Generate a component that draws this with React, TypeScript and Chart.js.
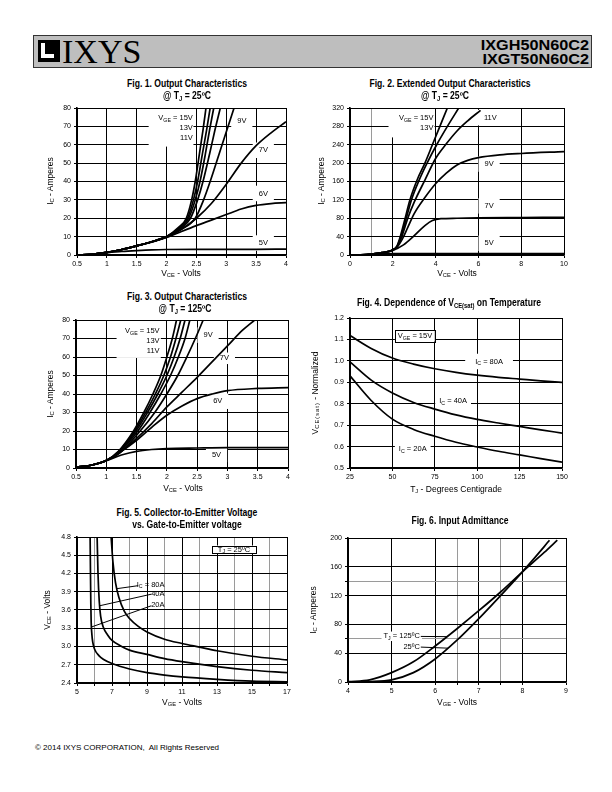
import React, { useEffect, useRef } from 'react';
import { Chart, registerables } from 'chart.js';

Chart.register(...registerables);

type XY = [number, number][];
type Part = [string, number?];
interface Lbl { x: number; y: number; parts: Part[]; align?: 'left' | 'center' | 'right'; bg?: boolean; padX?: number; padY?: number; }
interface Box { x1: number; y1: number; x2: number; y2: number; }

const FONT = "'Liberation Sans', Arial, Helvetica, sans-serif";

// ---------------- Fig. 1  Output Characteristics @ 25C ----------------
const fig1XTicks = [0.5, 1, 1.5, 2, 2.5, 3, 3.5, 4];
const fig1YTicks = [0, 10, 20, 30, 40, 50, 60, 70, 80];
const fig1Vge15: XY = [[0.5, 0], [0.75, 0.4], [1, 1.4], [1.25, 3], [1.5, 5], [1.75, 7.2], [2, 10], [2.2, 15], [2.33, 20], [2.42, 30], [2.48, 40], [2.55, 55], [2.61, 68], [2.66, 80]];
const fig1Vge13: XY = [[0.5, 0], [0.75, 0.4], [1, 1.4], [1.25, 3], [1.5, 5], [1.75, 7.2], [2, 10], [2.2, 14.5], [2.35, 20], [2.45, 30], [2.52, 40], [2.6, 55], [2.67, 68], [2.73, 80]];
const fig1Vge11: XY = [[0.5, 0], [0.75, 0.4], [1, 1.4], [1.25, 3], [1.5, 5], [1.75, 7.2], [2, 10], [2.22, 14.5], [2.37, 20], [2.48, 30], [2.56, 40], [2.65, 55], [2.72, 68], [2.79, 80]];
const fig1Vge10: XY = [[0.5, 0], [0.75, 0.4], [1, 1.4], [1.25, 3], [1.5, 5], [1.75, 7.2], [2, 10], [2.24, 14.5], [2.4, 20], [2.52, 30], [2.61, 40], [2.72, 55], [2.81, 68], [2.9, 80]];
const fig1Vge9: XY = [[0.5, 0], [0.75, 0.4], [1, 1.4], [1.25, 3], [1.5, 5], [1.75, 7.2], [2, 10], [2.25, 14], [2.48, 20], [2.62, 30], [2.73, 40], [2.88, 55], [3.01, 68], [3.13, 80]];
const fig1Vge7: XY = [[0.5, 0], [0.75, 0.4], [1, 1.4], [1.25, 3], [1.5, 5], [1.75, 7.1], [2, 9.8], [2.25, 14], [2.5, 20], [2.75, 28], [3, 38.5], [3.25, 50], [3.5, 59.5], [3.75, 66.5], [4, 72.5]];
const fig1Vge6: XY = [[0.5, 0], [0.75, 0.4], [1, 1.4], [1.25, 3], [1.5, 5], [1.75, 7], [2, 9.5], [2.25, 12.8], [2.5, 16], [2.75, 19], [3, 22], [3.25, 25], [3.5, 27], [3.75, 28], [4, 28.5]];
const fig1Vge5: XY = [[0.5, 0], [0.75, 0.4], [1, 1.2], [1.25, 1.9], [1.5, 2.4], [1.75, 2.8], [2, 3], [2.5, 3.1], [3, 3.1], [3.5, 3.1], [4, 3.2]];

// ---------------- Fig. 2  Extended Output Characteristics @ 25C ----------------
const fig2XTicks = [0, 1, 2, 4, 6, 8, 10];
const fig2XMinor = [1];
const fig2YTicks = [0, 40, 80, 120, 160, 200, 240, 280, 320];
const fig2Vge15: XY = [[0, 0], [0.5, 0.5], [1, 2], [1.5, 5], [2, 11], [2.2, 20], [2.35, 40], [2.55, 75], [2.8, 120], [3.15, 165], [3.5, 200], [3.85, 240], [4.2, 280], [4.55, 320]];
const fig2Vge13: XY = [[0, 0], [0.5, 0.5], [1, 2], [1.5, 5], [2, 11], [2.2, 19], [2.38, 40], [2.6, 75], [2.87, 120], [3.25, 165], [3.6, 200], [4.05, 240], [4.55, 280], [5.08, 320]];
const fig2Vge11: XY = [[0, 0], [0.5, 0.5], [1, 2], [1.5, 5], [2, 11], [2.2, 18], [2.42, 40], [2.7, 80], [3, 115], [3.5, 163], [4, 210], [4.5, 242], [5, 270], [5.5, 292], [6.1, 315]];
const fig2Vge9: XY = [[0, 0], [0.5, 0.5], [1, 2], [1.5, 5], [2, 11], [2.2, 17], [2.45, 35], [2.7, 60], [3, 90], [3.5, 125], [4, 155], [4.5, 178], [5, 196], [5.5, 206], [6, 212], [7, 218], [8, 221], [10, 225]];
const fig2Vge7: XY = [[0, 0], [0.5, 0.5], [1, 2], [1.5, 5], [2, 10], [2.5, 22], [3, 42], [3.5, 64], [3.85, 75], [4.25, 79], [5, 80], [6, 81], [8, 81.5], [10, 82]];
const fig2Vge5: XY = [[0, 0], [0.5, 0.3], [1, 1.5], [1.5, 2.5], [2, 3], [4, 3.2], [10, 3.3]];

// ---------------- Fig. 3  Output Characteristics @ 125C ----------------
const fig3XTicks = [0.5, 1, 1.5, 2, 2.5, 3, 3.5, 4];
const fig3YTicks = [0, 10, 20, 30, 40, 50, 60, 70, 80];
const fig3Vge15: XY = [[0.5, 0.5], [0.75, 1.5], [1, 4], [1.2, 9], [1.45, 20], [1.62, 30], [1.77, 40], [1.9, 50], [2.0, 60], [2.09, 70], [2.16, 80]];
const fig3Vge13: XY = [[0.5, 0.5], [0.75, 1.5], [1, 4], [1.2, 8.8], [1.47, 20], [1.65, 30], [1.81, 40], [1.95, 50], [2.06, 60], [2.15, 70], [2.23, 80]];
const fig3Vge11: XY = [[0.5, 0.5], [0.75, 1.5], [1, 4], [1.2, 8.5], [1.49, 20], [1.68, 30], [1.85, 40], [2.0, 50], [2.12, 60], [2.22, 70], [2.3, 80]];
const fig3Vge10: XY = [[0.5, 0.5], [0.75, 1.5], [1, 4], [1.2, 8.2], [1.52, 20], [1.72, 30], [1.9, 40], [2.06, 50], [2.19, 60], [2.3, 70], [2.38, 80]];
const fig3Vge9: XY = [[0.5, 0.5], [0.75, 1.5], [1, 4], [1.22, 8], [1.56, 20], [1.8, 30], [2.0, 40], [2.18, 50], [2.33, 60], [2.47, 70], [2.6, 80]];
const fig3Vge7: XY = [[0.5, 0.5], [0.75, 1.5], [1, 4], [1.25, 9], [1.5, 16], [1.75, 24], [2, 33], [2.25, 41], [2.5, 49], [2.75, 57.5], [3, 66], [3.25, 74.5], [3.45, 80]];
const fig3Vge6: XY = [[0.5, 0.5], [0.75, 1.5], [1, 4], [1.25, 9], [1.5, 15], [1.75, 22], [2, 28.5], [2.25, 33.5], [2.5, 37.5], [2.75, 40], [3, 41.8], [3.5, 43], [4, 43.5]];
const fig3Vge5: XY = [[0.5, 0.5], [0.75, 1.5], [1, 4], [1.25, 7], [1.5, 9], [1.75, 10], [2, 10.5], [2.5, 10.8], [3, 11], [4, 11]];

// ---------------- Fig. 4  VCE(sat) vs temperature ----------------
const fig4XTicks = [25, 50, 75, 100, 125, 150];
const fig4YTicks = [0.5, 0.6, 0.7, 0.8, 0.9, 1.0, 1.1, 1.2];
const fig4Temps = [25, 37.5, 50, 62.5, 75, 87.5, 100, 112.5, 125, 137.5, 150];
const fig4Ic80 = [1.118, 1.058, 1.013, 0.985, 0.963, 0.946, 0.933, 0.923, 0.915, 0.907, 0.9];
const fig4Ic40 = [0.995, 0.91, 0.85, 0.806, 0.775, 0.748, 0.727, 0.71, 0.694, 0.678, 0.663];
const fig4Ic20 = [0.93, 0.815, 0.728, 0.68, 0.648, 0.62, 0.598, 0.578, 0.561, 0.544, 0.527];

// ---------------- Fig. 5  VCE vs VGE ----------------
const fig5XTicks = [5, 6, 7, 8, 9, 10, 11, 12, 13, 14, 15, 16, 17];
const fig5XMinor = [6, 8, 10, 12, 14, 16];
const fig5YTicks = [2.4, 2.7, 3.0, 3.3, 3.6, 3.9, 4.2, 4.5, 4.8];
const fig5Ic80: XY = [[6.95, 4.8], [7.05, 4.4], [7.2, 4.05], [7.4, 3.8], [7.7, 3.58], [8, 3.46], [8.5, 3.33], [9, 3.24], [10, 3.12], [11, 3.05], [12, 2.99], [13, 2.93], [15, 2.84], [17, 2.78]];
const fig5Ic40: XY = [[6.15, 4.8], [6.2, 4.2], [6.27, 3.75], [6.35, 3.5], [6.5, 3.32], [6.75, 3.19], [7, 3.1], [7.5, 3.01], [8, 2.94], [9, 2.87], [10, 2.8], [11, 2.75], [13, 2.67], [15, 2.61], [17, 2.57]];
const fig5Ic20: XY = [[5.75, 4.8], [5.77, 4.2], [5.79, 3.7], [5.81, 3.4], [5.85, 3.2], [5.9, 3.07], [6, 2.96], [6.25, 2.85], [6.5, 2.79], [7, 2.72], [8, 2.63], [9, 2.57], [10, 2.53], [11, 2.5], [13, 2.46], [15, 2.43], [17, 2.42]];

// ---------------- Fig. 6  Input Admittance ----------------
const fig6XTicks = [4, 5, 6, 6.5, 7, 7.5, 8, 9];
const fig6XMinor = [6.5, 7.5];
const fig6YTicks = [0, 40, 60, 80, 120, 140, 160, 200];
const fig6YMinor = [60, 140];
const fig6Tj125: XY = [[4, 0.5], [4.5, 3], [5, 13], [5.5, 28], [6, 50], [6.5, 74], [7, 99], [7.5, 125], [8, 153], [8.5, 180], [8.8, 197]];
const fig6Tj25: XY = [[4, 0], [4.5, 0.5], [5, 3], [5.5, 13], [6, 32], [6.5, 58], [7, 88], [7.5, 120], [8, 153], [8.5, 188], [8.62, 197]];

const zip = (xs: number[], ys: number[]): XY => xs.map((x, i) => [x, ys[i]]);

// ---------------- chart helpers ----------------
const YW = 40, PT = 10, PR = 14, XH = 22;
const LBL = 7.5;

function drawParts(ctx: CanvasRenderingContext2D, parts: Part[], x: number, y: number, size: number, align: string) {
  let w = 0;
  for (const [t, sub] of parts) { ctx.font = `${sub ? size * 0.7 : size}px ${FONT}`; w += ctx.measureText(t).width; }
  let cx = align === 'right' ? x - w : align === 'center' ? x - w / 2 : x;
  ctx.textBaseline = 'middle';
  ctx.textAlign = 'left';
  ctx.fillStyle = '#000';
  for (const [t, sub] of parts) {
    ctx.font = `${sub ? size * 0.7 : size}px ${FONT}`;
    ctx.fillText(t, cx, y + (sub ? size * 0.32 : 0));
    cx += ctx.measureText(t).width;
  }
}

function partsWidth(ctx: CanvasRenderingContext2D, parts: Part[], size: number) {
  let w = 0;
  for (const [t, sub] of parts) { ctx.font = `${sub ? size * 0.7 : size}px ${FONT}`; w += ctx.measureText(t).width; }
  return w;
}

interface Spec {
  L: number; T: number; R: number; B: number;
  xMin: number; xMax: number; yMin: number; yMax: number;
  xTicks: number[]; yTicks: number[]; xMinor?: number[]; yMinor?: number[];
  yDec?: number;
  series: XY[];
  labels?: Lbl[]; blanks?: Box[]; boxes?: Box[]; leaders?: Box[];
}

function annPlugin(s: Spec) {
  return {
    id: 'ann',
    beforeDatasetsDraw(chart: any) {
      const { ctx, chartArea: a, scales } = chart;
      const X = scales.x, Y = scales.y;
      ctx.save();
      ctx.beginPath();
      ctx.rect(a.left + 1, a.top + 1, a.right - a.left - 2, a.bottom - a.top - 2);
      ctx.clip();
      ctx.fillStyle = '#fff';
      for (const b of s.blanks || []) {
        const x1 = X.getPixelForValue(b.x1), x2 = X.getPixelForValue(b.x2);
        const y1 = Y.getPixelForValue(b.y1), y2 = Y.getPixelForValue(b.y2);
        ctx.fillRect(Math.min(x1, x2), Math.min(y1, y2), Math.abs(x2 - x1), Math.abs(y2 - y1));
      }
      for (const l of s.labels || []) {
        if (!l.bg) continue;
        const w = partsWidth(ctx, l.parts, LBL);
        const px = X.getPixelForValue(l.x), py = Y.getPixelForValue(l.y);
        const al = l.align || 'center';
        const left = al === 'right' ? px - w : al === 'center' ? px - w / 2 : px;
        const padX = l.padX ?? 4, padY = l.padY ?? 4;
        ctx.fillStyle = '#fff';
        ctx.fillRect(left - padX, py - LBL / 2 - padY, w + padX * 2, LBL + padY * 2);
      }
      for (const b of s.boxes || []) {
        const x1 = X.getPixelForValue(b.x1), x2 = X.getPixelForValue(b.x2);
        const y1 = Y.getPixelForValue(b.y1), y2 = Y.getPixelForValue(b.y2);
        ctx.fillStyle = '#fff';
        ctx.fillRect(Math.min(x1, x2), Math.min(y1, y2), Math.abs(x2 - x1), Math.abs(y2 - y1));
      }
      ctx.restore();
    },
    afterDatasetsDraw(chart: any) {
      const { ctx, scales } = chart;
      const X = scales.x, Y = scales.y;
      ctx.save();
      ctx.strokeStyle = '#000';
      ctx.lineWidth = 1;
      for (const b of s.boxes || []) {
        const x1 = Math.round(X.getPixelForValue(b.x1)) + 0.5, x2 = Math.round(X.getPixelForValue(b.x2)) + 0.5;
        const y1 = Math.round(Y.getPixelForValue(b.y1)) + 0.5, y2 = Math.round(Y.getPixelForValue(b.y2)) + 0.5;
        ctx.strokeRect(Math.min(x1, x2), Math.min(y1, y2), Math.abs(x2 - x1), Math.abs(y2 - y1));
      }
      for (const g of s.leaders || []) {
        ctx.beginPath();
        ctx.moveTo(X.getPixelForValue(g.x1), Y.getPixelForValue(g.y1));
        ctx.lineTo(X.getPixelForValue(g.x2), Y.getPixelForValue(g.y2));
        ctx.stroke();
      }
      for (const l of s.labels || []) {
        drawParts(ctx, l.parts, X.getPixelForValue(l.x), Y.getPixelForValue(l.y), LBL, l.align || 'center');
      }
      ctx.restore();
    },
  };
}

function axis(min: number, max: number, ticks: number[], minor: number[], dec: number | undefined, isX: boolean) {
  return {
    type: 'linear',
    min, max,
    afterBuildTicks: (sc: any) => { sc.ticks = ticks.map((v) => ({ value: v })); },
    afterFit: (sc: any) => { if (isX) sc.height = XH; else sc.width = YW; },
    ticks: {
      autoSkip: false, maxRotation: 0, color: '#000', padding: isX ? 2 : 3,
      font: { family: FONT, size: 7 },
      callback: (v: number) => minor.includes(v) ? '' : (dec !== undefined ? Number(v).toFixed(dec) : String(v)),
    },
    grid: {
      color: (c: any) => (c.tick && minor.includes(c.tick.value)) ? '#9a9a9a' : '#000',
      tickColor: '#000',
      lineWidth: 1, tickLength: 3, drawTicks: true,
    },
    border: { color: '#000', width: 1.6 },
  };
}

function ChartBox({ spec }: { spec: Spec }) {
  const ref = useRef<HTMLCanvasElement>(null);
  const w = spec.R - spec.L + YW + PR;
  const h = spec.B - spec.T + PT + XH;
  useEffect(() => {
    const chart = new Chart(ref.current as HTMLCanvasElement, {
      type: 'scatter',
      data: {
        datasets: spec.series.map((d) => ({
          data: d.map(([x, y]) => ({ x, y })),
          showLine: true, borderColor: '#000', backgroundColor: '#000', borderWidth: 1.7,
          pointRadius: 0, pointHoverRadius: 0, cubicInterpolationMode: 'monotone', fill: false,
        })),
      },
      options: {
        animation: false, responsive: false, maintainAspectRatio: false, devicePixelRatio: 1,
        events: [],
        layout: { padding: { left: 0, right: PR, top: PT, bottom: 0 } },
        plugins: { legend: { display: false }, tooltip: { enabled: false }, title: { display: false } },
        scales: {
          x: axis(spec.xMin, spec.xMax, spec.xTicks, spec.xMinor || [], undefined, true),
          y: axis(spec.yMin, spec.yMax, spec.yTicks, spec.yMinor || [], spec.yDec, false),
        },
      } as any,
      plugins: [annPlugin(spec)],
    } as any);
    return () => chart.destroy();
  }, []);
  return <canvas ref={ref} width={w} height={h} style={{ position: 'absolute', left: spec.L - YW, top: spec.T - PT, width: w, height: h }} />;
}

const vge15: Part[] = [['V'], ['GE', 1], [' = 15V']];

const specs: Spec[] = [
  {
    L: 77, T: 108, R: 286, B: 255, xMin: 0.5, xMax: 4, yMin: 0, yMax: 80,
    xTicks: fig1XTicks, yTicks: fig1YTicks,
    series: [fig1Vge15, fig1Vge13, fig1Vge11, fig1Vge10, fig1Vge9, fig1Vge7, fig1Vge6, fig1Vge5],
    blanks: [{ x1: 1.7, y1: 80, x2: 2.45, y2: 59 }],
    labels: [
      { x: 2.44, y: 74.5, parts: vge15, align: 'right' },
      { x: 2.44, y: 69.3, parts: [['13V']], align: 'right' },
      { x: 2.44, y: 63.8, parts: [['11V']], align: 'right' },
      { x: 3.26, y: 73, parts: [['9V']], bg: true, padX: 6 },
      { x: 3.62, y: 57, parts: [['7V']], bg: true, padX: 6 },
      { x: 3.62, y: 33.5, parts: [['6V']], bg: true, padX: 6 },
      { x: 3.62, y: 6.5, parts: [['5V']], bg: true, padX: 6 },
    ],
  },
  {
    L: 350, T: 108, R: 564, B: 255, xMin: 0, xMax: 10, yMin: 0, yMax: 320,
    xTicks: fig2XTicks, yTicks: fig2YTicks, xMinor: fig2XMinor,
    series: [fig2Vge15, fig2Vge13, fig2Vge11, fig2Vge9, fig2Vge7, fig2Vge5],
    blanks: [{ x1: 1.8, y1: 320, x2: 3.95, y2: 256 }],
    labels: [
      { x: 3.9, y: 299, parts: vge15, align: 'right' },
      { x: 3.9, y: 277, parts: [['13V']], align: 'right' },
      { x: 6.56, y: 299, parts: [['11V']], bg: true, padX: 6 },
      { x: 6.5, y: 198, parts: [['9V']], bg: true, padX: 6 },
      { x: 6.5, y: 107, parts: [['7V']], bg: true, padX: 6 },
      { x: 6.5, y: 25.5, parts: [['5V']], bg: true, padX: 6 },
    ],
  },
  {
    L: 76, T: 320, R: 288, B: 468, xMin: 0.5, xMax: 4, yMin: 0, yMax: 80,
    xTicks: fig3XTicks, yTicks: fig3YTicks,
    series: [fig3Vge15, fig3Vge13, fig3Vge11, fig3Vge10, fig3Vge9, fig3Vge7, fig3Vge6, fig3Vge5],
    blanks: [{ x1: 1.17, y1: 80, x2: 1.9, y2: 59.5 }],
    labels: [
      { x: 1.88, y: 74.2, parts: vge15, align: 'right' },
      { x: 1.88, y: 68.8, parts: [['13V']], align: 'right' },
      { x: 1.88, y: 63.1, parts: [['11V']], align: 'right' },
      { x: 2.68, y: 71.8, parts: [['9V']], bg: true, padX: 6 },
      { x: 2.95, y: 59.3, parts: [['7V']], bg: true, padX: 6, padY: 2 },
      { x: 2.84, y: 36.1, parts: [['6V']], bg: true, padX: 6 },
      { x: 2.82, y: 7.3, parts: [['5V']], bg: true, padX: 6 },
    ],
  },
  {
    L: 350, T: 318, R: 562, B: 468, xMin: 25, xMax: 150, yMin: 0.5, yMax: 1.2,
    xTicks: fig4XTicks, yTicks: fig4YTicks, yDec: 1,
    series: [zip(fig4Temps, fig4Ic80), zip(fig4Temps, fig4Ic40), zip(fig4Temps, fig4Ic20)],
    boxes: [{ x1: 51.5, y1: 1.142, x2: 75, y2: 1.09 }],
    labels: [
      { x: 63.3, y: 1.116, parts: vge15 },
      { x: 107, y: 0.997, parts: [['I'], ['C', 1], [' = 80A']], bg: true, padX: 10 },
      { x: 85.8, y: 0.814, parts: [['I'], ['C', 1], [' = 40A']], bg: true, padX: 4 },
      { x: 62, y: 0.589, parts: [['I'], ['C', 1], [' = 20A']], bg: true, padX: 4 },
    ],
  },
  {
    L: 77, T: 537, R: 287, B: 683, xMin: 5, xMax: 17, yMin: 2.4, yMax: 4.8,
    xTicks: fig5XTicks, yTicks: fig5YTicks, xMinor: fig5XMinor, yDec: 1,
    series: [fig5Ic80, fig5Ic40, fig5Ic20],
    boxes: [{ x1: 12.69, y1: 4.66, x2: 15.25, y2: 4.53 }],
    leaders: [
      { x1: 7.26, y1: 3.95, x2: 8.5, y2: 4.0 },
      { x1: 6.3, y1: 3.67, x2: 9.25, y2: 3.86 },
      { x1: 5.82, y1: 3.32, x2: 9.25, y2: 3.67 },
    ],
    labels: [
      { x: 13.97, y: 4.595, parts: [['T'], ['J', 1], [' = 25ºC']] },
      { x: 10.0, y: 4.02, parts: [['I'], ['C', 1], [' = 80A']], align: 'right' },
      { x: 10.0, y: 3.857, parts: [['40A']], align: 'right' },
      { x: 10.0, y: 3.677, parts: [['20A']], align: 'right' },
    ],
  },
  {
    L: 348, T: 538, R: 566, B: 682, xMin: 4, xMax: 9, yMin: 0, yMax: 200,
    xTicks: fig6XTicks, yTicks: fig6YTicks, xMinor: fig6XMinor, yMinor: fig6YMinor,
    series: [fig6Tj125, fig6Tj25],
    leaders: [
      { x1: 5.67, y1: 63.3, x2: 6.27, y2: 63 },
      { x1: 5.67, y1: 48.5, x2: 6.29, y2: 47 },
    ],
    labels: [
      { x: 5.65, y: 63.5, parts: [['T'], ['J', 1], [' = 125ºC']], align: 'right', bg: true, padX: 2, padY: 1 },
      { x: 5.65, y: 49, parts: [['25ºC']], align: 'right', bg: true, padX: 2, padY: 1 },
    ],
  },
];

// ---------------- HTML text helpers ----------------
function S({ children }: { children: React.ReactNode }) {
  return <span style={{ fontSize: '0.68em', verticalAlign: '-0.3em' }}>{children}</span>;
}

function Tx({ x, y, children, size = 8.5, bold = false, rot = false, anchor = 'c', family = FONT, sx = 1 }:
  { x: number; y: number; children: React.ReactNode; size?: number; bold?: boolean; rot?: boolean; anchor?: string; family?: string; sx?: number }) {
  const tx = anchor === 'c' ? '-50%' : anchor === 'r' ? '-100%' : '0';
  const origin = anchor === 'c' ? 'center' : anchor === 'r' ? 'right center' : 'left center';
  return (
    <div style={{
      position: 'absolute', left: x, top: y, whiteSpace: 'nowrap', fontFamily: family, fontSize: size,
      fontWeight: bold ? 700 : 400, lineHeight: 1, color: '#000', transformOrigin: origin,
      transform: `translate(${tx},-50%)${rot ? ' rotate(-90deg)' : ''}${sx !== 1 ? ` scaleX(${sx})` : ''}`,
    }}>{children}</div>
  );
}

function Title({ x, y, children }: { x: number; y: number; children: React.ReactNode }) {
  return <Tx x={x} y={y} size={10} bold sx={0.86}>{children}</Tx>;
}

export default function App() {
  return (
    <div style={{ position: 'absolute', left: 0, top: 0, width: 612, height: 792, background: '#fff', overflow: 'hidden' }}>
      {/* header */}
      <div style={{ position: 'absolute', left: 33, top: 35, width: 559, height: 33, background: '#bebebe', border: '1px solid #333', boxSizing: 'border-box' }} />
      <div style={{ position: 'absolute', left: 38, top: 40, width: 22, height: 22, background: '#000' }} />
      <div style={{ position: 'absolute', left: 41, top: 43, width: 13, height: 15, background: '#fff' }} />
      <div style={{ position: 'absolute', left: 45, top: 43, width: 9, height: 11, background: '#000' }} />
      <Tx x={62} y={52} size={34} anchor="l" family="'Liberation Serif', 'Times New Roman', serif">IXYS</Tx>
      <Tx x={589} y={45} size={14.5} bold anchor="r" sx={1.12}>IXGH50N60C2</Tx>
      <Tx x={589} y={59} size={14.5} bold anchor="r" sx={1.12}>IXGT50N60C2</Tx>

      {specs.map((s, i) => <ChartBox key={i} spec={s} />)}

      {/* Fig 1 */}
      <Title x={187} y={84}>Fig. 1. Output Characteristics</Title>
      <Title x={187} y={97}>@ T<S>J</S> = 25ºC</Title>
      <Tx x={181} y={274}>V<S>CE</S> - Volts</Tx>
      <Tx x={51} y={181} rot>I<S>C</S> - Amperes</Tx>

      {/* Fig 2 */}
      <Title x={450} y={84}>Fig. 2. Extended Output Characteristics</Title>
      <Title x={445} y={97}>@ T<S>J</S> = 25ºC</Title>
      <Tx x={457} y={274}>V<S>CE</S> - Volts</Tx>
      <Tx x={322} y={181} rot>I<S>C</S> - Amperes</Tx>

      {/* Fig 3 */}
      <Title x={187} y={297}>Fig. 3. Output Characteristics</Title>
      <Title x={185} y={310}>@ T<S>J</S> = 125ºC</Title>
      <Tx x={183} y={489}>V<S>CE</S> - Volts</Tx>
      <Tx x={51} y={394} rot>I<S>C</S> - Amperes</Tx>

      {/* Fig 4 */}
      <Title x={449} y={304}>Fig. 4. Dependence of V<S>CE(sat)</S> on Temperature</Title>
      <Tx x={456} y={490}>T<S>J</S> - Degrees Centigrade</Tx>
      <Tx x={316} y={393} rot>V<S><span style={{ letterSpacing: 1 }}>CE(sat)</span></S> - Normalized</Tx>

      {/* Fig 5 */}
      <Title x={187} y={513}>Fig. 5. Collector-to-Emitter Voltage</Title>
      <Title x={187} y={525}>vs. Gate-to-Emitter voltage</Title>
      <Tx x={182} y={703}>V<S>GE</S> - Volts</Tx>
      <Tx x={48} y={610} rot>V<S>CE</S> - Volts</Tx>

      {/* Fig 6 */}
      <Title x={460} y={521}>Fig. 6. Input Admittance</Title>
      <Tx x={457} y={703}>V<S>GE</S> - Volts</Tx>
      <Tx x={314} y={610} rot>I<S>C</S> - Amperes</Tx>

      {/* footer */}
      <Tx x={35} y={748} size={8} anchor="l">© 2014 IXYS CORPORATION,&nbsp; All Rights Reserved</Tx>
    </div>
  );
}
